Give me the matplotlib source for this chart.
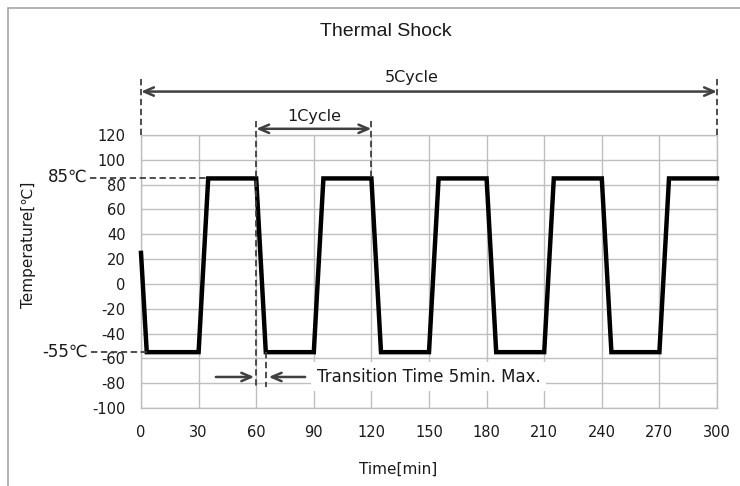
import matplotlib.pyplot as plt
import matplotlib as mpl
from matplotlib.patches import Rectangle

# ---- data ----
TIME_MIN = [0, 3, 30, 35, 60, 65, 90, 95, 120, 125, 150, 155,
            180, 185, 210, 215, 240, 245, 270, 275, 300]
TEMP_C = [25, -55, -55, 85, 85, -55, -55, 85, 85, -55, -55, 85,
          85, -55, -55, 85, 85, -55, -55, 85, 85]
X_TICKS = [0, 30, 60, 90, 120, 150, 180, 210, 240, 270, 300]
Y_TICKS = [-100, -80, -60, -40, -20, 0, 20, 40, 60, 80, 100, 120]
HOT_C = 85
COLD_C = -55

# ---- style ----
FONT = "DejaVu Sans"
TITLE_FONT = ["Liberation Sans Narrow", "Liberation Sans", "DejaVu Sans"]
GRID_COLOR = "#bfbfbf"
ANNO_COLOR = "#404040"
TEXT_COLOR = "#1a1a1a"
mpl.rcParams["font.family"] = FONT
mpl.rcParams["axes.unicode_minus"] = False

fig = plt.figure(figsize=(7.4, 4.86), dpi=100)
ax = fig.add_axes([141 / 740, 1 - 408 / 486, 576 / 740, 273 / 486])

# frame around chart area (right/bottom edges fall outside image)
fig.patches.append(Rectangle((8 / 740, -0.2), 2.0, 1.2 - 8 / 486,
                             transform=fig.transFigure, fill=False,
                             edgecolor="#a6a6a6", linewidth=1.2))

ax.plot(TIME_MIN, TEMP_C, color="black", linewidth=3.2, zorder=5,
        solid_joinstyle="miter", clip_on=False)

ax.set_xlim(0, 300)
ax.set_ylim(-100, 120)
ax.set_xticks(X_TICKS)
ax.set_yticks(Y_TICKS)
ax.grid(True, color=GRID_COLOR, linewidth=1.0)
ax.set_axisbelow(True)
for s in ax.spines.values():
    s.set_color(GRID_COLOR)
    s.set_linewidth(1.0)
ax.tick_params(length=0, labelsize=10.5, colors=TEXT_COLOR)
ax.tick_params(axis="x", pad=12)
ax.tick_params(axis="y", pad=11)

fig.text(386 / 740, 1 - 32 / 486, "Thermal Shock", ha="center", va="center",
         fontsize=14, family=TITLE_FONT, color=TEXT_COLOR)
fig.text(28 / 740, 1 - 245 / 486, "Temperature[℃]", rotation=90,
         ha="center", va="center", fontsize=11, color=TEXT_COLOR)
fig.text(398 / 740, 1 - 469 / 486, "Time[min]", ha="center", va="center",
         fontsize=11, color=TEXT_COLOR)

dash = dict(color=ANNO_COLOR, linewidth=1.3, linestyle=(0, (3.5, 2)),
            clip_on=False, zorder=6)

# level markers
ax.plot([-26.5, 35], [HOT_C, HOT_C], **dash)
ax.plot([-26, 3], [COLD_C, COLD_C], **dash)
ax.text(-28, HOT_C + 1, "85℃", ha="right", va="center", fontsize=12,
        color=TEXT_COLOR, clip_on=False)
ax.text(-27.5, COLD_C, "-55℃", ha="right", va="center", fontsize=12,
        color=TEXT_COLOR, clip_on=False)

# vertical guides
ax.plot([0, 0], [120, 165], **dash)
ax.plot([300, 300], [120, 165], **dash)
ax.plot([60, 60], [131, -83], **dash)
ax.plot([120, 120], [131, HOT_C], **dash)
ax.plot([65, 65], [COLD_C, -83], **dash)

arrow = dict(arrowstyle="<->,head_length=0.7,head_width=0.3",
             color=ANNO_COLOR, linewidth=1.8, shrinkA=0, shrinkB=0)
ax.annotate("", xy=(300, 155), xytext=(0, 155), arrowprops=arrow,
            annotation_clip=False)
ax.text(141, 166, "5Cycle", ha="center", va="center", fontsize=11.5,
        color=TEXT_COLOR, clip_on=False)
ax.annotate("", xy=(120, 125), xytext=(60, 125), arrowprops=arrow,
            annotation_clip=False)
ax.text(90, 135, "1Cycle", ha="center", va="center", fontsize=11.5,
        color=TEXT_COLOR, clip_on=False)

one = dict(arrowstyle="->,head_length=0.7,head_width=0.3",
           color=ANNO_COLOR, linewidth=1.8, shrinkA=0, shrinkB=0)
ax.annotate("", xy=(59, -75), xytext=(39, -75), arrowprops=one,
            annotation_clip=False)
ax.annotate("", xy=(66.5, -75), xytext=(85.5, -75), arrowprops=one,
            annotation_clip=False)
ax.text(91.5, -75, "Transition Time 5min. Max.", ha="left", va="center",
        fontsize=12, color=TEXT_COLOR, zorder=4,
        bbox=dict(facecolor="white", edgecolor="none", pad=4))

fig.savefig("out.png", dpi=100)
